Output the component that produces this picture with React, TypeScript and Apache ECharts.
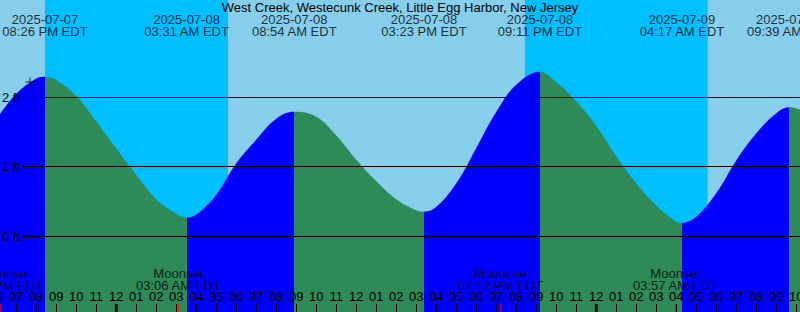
import React, { useEffect, useRef } from "react";
import * as echarts from "echarts";

// ---------- data ----------
const TITLE = "West Creek, Westecunk Creek, Little Egg Harbor, New Jersey";

const TIDE_DATES = ["2025-07-07", "2025-07-08", "2025-07-08", "2025-07-08", "2025-07-08", "2025-07-09", "2025-07-09"];
const TIDE_TIMES = ["08:26 PM", "03:31 AM", "08:54 AM", "03:23 PM", "09:11 PM", "04:17 AM", "09:39 AM"];
const TIDE_KINDS = ["High", "Low", "High", "Low", "High", "Low", "High"];

// water level samples (feet)
const CURVE_TIMES = [
  "2025-07-07 18:00", "2025-07-07 19:00", "2025-07-07 20:00", "2025-07-07 20:26", "2025-07-07 21:00",
  "2025-07-07 22:00", "2025-07-07 23:00", "2025-07-08 00:00", "2025-07-08 01:00", "2025-07-08 02:00",
  "2025-07-08 03:00", "2025-07-08 03:31", "2025-07-08 04:00", "2025-07-08 05:00", "2025-07-08 06:00",
  "2025-07-08 07:00", "2025-07-08 08:00", "2025-07-08 08:54", "2025-07-08 10:00", "2025-07-08 11:00",
  "2025-07-08 12:00", "2025-07-08 13:00", "2025-07-08 14:00", "2025-07-08 15:00", "2025-07-08 15:23",
  "2025-07-08 16:00", "2025-07-08 17:00", "2025-07-08 18:00", "2025-07-08 19:00", "2025-07-08 20:00",
  "2025-07-08 21:11", "2025-07-08 22:00", "2025-07-08 23:00", "2025-07-09 00:00", "2025-07-09 01:00",
  "2025-07-09 02:00", "2025-07-09 03:00", "2025-07-09 04:00", "2025-07-09 04:17", "2025-07-09 05:00",
  "2025-07-09 06:00", "2025-07-09 07:00", "2025-07-09 08:00", "2025-07-09 09:00", "2025-07-09 09:39",
  "2025-07-09 10:00", "2025-07-09 11:00",
];
const CURVE_FEET = [
  1.68, 2.05, 2.27, 2.297, 2.25,
  2.02, 1.65, 1.26, 0.88, 0.53,
  0.32, 0.27, 0.31, 0.6, 1.05,
  1.39, 1.69, 1.79, 1.72, 1.45,
  1.1, 0.79, 0.53, 0.37, 0.35,
  0.42, 0.76, 1.27, 1.79, 2.18,
  2.37, 2.22, 1.94, 1.59, 1.15,
  0.76, 0.44, 0.21, 0.19, 0.28,
  0.62, 1.09, 1.48, 1.77, 1.855,
  1.84, 1.74,
];

const NIGHT_STARTS = ["2025-07-07 20:26", "2025-07-08 20:26"];
const NIGHT_ENDS = ["2025-07-08 05:35", "2025-07-09 05:34"];

const MOON_EVENTS = ["Moonrise", "Moonset", "Moonrise", "Moonset"];
const MOON_DATES = ["2025-07-07", "2025-07-08", "2025-07-08", "2025-07-09"];
const MOON_TIMES = ["06:12 PM", "03:06 AM", "07:12 PM", "03:57 AM"];

const MARKER_TIME = "2025-07-07 19:41";
const MARKER_FEET = 2.22;

const Y_TICKS = [0, 1, 2];
const MIDNIGHTS = ["2025-07-08 00:00", "2025-07-09 00:00"];

// ---------- helpers ----------
const REF_DAY = 8; // hours are counted from 2025-07-08 00:00
function hoursOf(date: string, time: string): number {
  const day = parseInt(date.slice(8, 10), 10) - REF_DAY;
  const m = time.trim().match(/^(\d{1,2}):(\d{2})\s*(AM|PM)?$/i);
  if (!m) return 0;
  let h = parseInt(m[1], 10);
  const min = parseInt(m[2], 10);
  if (m[3]) {
    const pm = m[3].toUpperCase() === "PM";
    if (h === 12) h = 0;
    if (pm) h += 12;
  }
  return day * 24 + h + min / 60;
}
function hoursOfStamp(s: string): number {
  const [d, t] = s.split(" ");
  return hoursOf(d, t);
}

// ---------- layout ----------
const W = 800;
const H = 312;
const PX_PER_HOUR = 20;
const MIDNIGHT_X = 116.3;
const X_MIN = -6;
const X_MAX = 35;
const PX_PER_FT = 69.35;
const ZERO_Y = 236;
const Y_MIN = -(H - ZERO_Y) / PX_PER_FT;
const Y_MAX = ZERO_Y / PX_PER_FT;
const yAt = (px: number) => (ZERO_Y - px) / PX_PER_FT;
const xAtPx = (px: number) => (px - MIDNIGHT_X) / PX_PER_HOUR;

const FONT = "'Liberation Sans', Arial, Helvetica, sans-serif";
const DAY = "#87CEEB";
const NIGHT = "#00BFFF";
const RISING = "#0000FF";
const FALLING = "#2E8B57";

export default function App() {
  const ref = useRef<HTMLDivElement>(null);

  useEffect(() => {
    document.body.style.margin = "0";
    if (!ref.current) return;
    const chart = echarts.init(ref.current, undefined, { renderer: "svg", width: W, height: H });

    const curve = CURVE_TIMES.map((t, i) => [hoursOfStamp(t), CURVE_FEET[i]]);
    const tideHours = TIDE_TIMES.map((t, i) => hoursOf(TIDE_DATES[i], t));

    const pieces: any[] = [];
    pieces.push({ lt: tideHours[0], color: TIDE_KINDS[0] === "High" ? RISING : FALLING });
    for (let i = 0; i < tideHours.length; i++) {
      const color = TIDE_KINDS[i] === "High" ? FALLING : RISING;
      if (i < tideHours.length - 1) pieces.push({ gte: tideHours[i], lt: tideHours[i + 1], color });
      else pieces.push({ gte: tideHours[i], color });
    }

    const tideLabels = tideHours.map((h, i) => ({
      value: [h, yAt(25.3)],
      label: { formatter: `${TIDE_DATES[i]}\n${TIDE_TIMES[i]} EDT` },
    }));
    const moonLabels = MOON_TIMES.map((t, i) => ({
      value: [hoursOf(MOON_DATES[i], t), yAt(279.3)],
      label: { formatter: `${MOON_EVENTS[i]}\n${t} EDT` },
    }));
    const moonTicks = MOON_TIMES.map((t, i) => [hoursOf(MOON_DATES[i], t), yAt(308)]);
    const midnightTicks = MIDNIGHTS.map((s) => [hoursOfStamp(s), yAt(308)]);

    const lineStart = xAtPx(22);

    const option: any = {
      animation: false,
      backgroundColor: DAY,
      title: {
        text: TITLE,
        left: "center",
        top: 0,
        padding: 0,
        textStyle: { fontFamily: FONT, fontSize: 13, fontWeight: "normal", color: "#000", lineHeight: 14 },
      },
      grid: {
        left: MIDNIGHT_X + X_MIN * PX_PER_HOUR,
        top: 0,
        width: (X_MAX - X_MIN) * PX_PER_HOUR,
        height: H,
        containLabel: false,
        outerBoundsMode: "none",
      },
      xAxis: {
        type: "value",
        position: "bottom",
        min: X_MIN,
        max: X_MAX,
        interval: 1,
        z: 10,
        axisLine: { show: false, onZero: false },
        splitLine: { show: false },
        axisTick: { show: true, inside: true, length: 8, interval: 0, lineStyle: { color: "#000", width: 1 } },
        axisLabel: {
          inside: true,
          interval: 0,
          margin: 9,
          color: "#000",
          fontFamily: FONT,
          fontSize: 13,
          showMinLabel: true,
          showMaxLabel: true,
          hideOverlap: false,
          formatter: (v: number) => {
            const h = ((Math.round(v) % 24) + 24) % 24;
            const h12 = h % 12 === 0 ? 12 : h % 12;
            return String(h12).padStart(2, "0");
          },
        },
      },
      yAxis: { type: "value", min: Y_MIN, max: Y_MAX, show: false },
      visualMap: {
        type: "piecewise",
        show: false,
        dimension: 0,
        seriesIndex: 0,
        pieces,
      },
      series: [
        {
          type: "line",
          data: curve,
          smooth: 0.4,
          showSymbol: false,
          silent: true,
          z: 2,
          lineStyle: { width: 0, opacity: 0 },
          areaStyle: { opacity: 1, origin: "start" },
          markArea: {
            silent: true,
            z: 1,
            itemStyle: { color: NIGHT, opacity: 1 },
            data: NIGHT_STARTS.map((s, i) => [{ xAxis: hoursOfStamp(s) }, { xAxis: hoursOfStamp(NIGHT_ENDS[i]) }]),
          },
          markLine: {
            silent: true,
            symbol: "none",
            z: 5,
            lineStyle: { color: "#000", width: 1, type: "solid" },
            label: {
              show: true,
              position: "start",
              distance: 2,
              formatter: "{b}",
              color: "#000",
              fontFamily: FONT,
              fontSize: 13,
            },
            data: Y_TICKS.map((v) => [
              { name: `${v} ft`, coord: [lineStart, v] },
              { coord: [X_MAX, v] },
            ]),
          },
        },
        {
          type: "scatter",
          data: tideLabels,
          symbolSize: 0,
          silent: true,
          z: 6,
          label: { show: true, position: "inside", color: "#000", fontFamily: FONT, fontSize: 13, lineHeight: 12.5 },
        },
        {
          type: "scatter",
          data: moonLabels,
          symbolSize: 0,
          silent: true,
          z: 6,
          label: { show: true, position: "inside", color: "#000", fontFamily: FONT, fontSize: 13, lineHeight: 11.5 },
        },
        {
          type: "scatter",
          data: midnightTicks,
          symbol: "rect",
          symbolSize: [3, 8],
          silent: true,
          z: 11,
          itemStyle: { color: "#000" },
        },
        {
          type: "scatter",
          data: moonTicks,
          symbol: "rect",
          symbolSize: [1, 8],
          silent: true,
          z: 12,
          itemStyle: { color: "#FF0000" },
        },
        {
          type: "scatter",
          data: [[hoursOfStamp(MARKER_TIME), MARKER_FEET]],
          symbol: "path://M4,0H5V4H9V5H5V9H4V5H0V4H4Z",
          symbolSize: [9, 9],
          silent: true,
          z: 7,
          itemStyle: { color: "#000" },
        },
      ],
    };

    chart.setOption(option);
    return () => chart.dispose();
  }, []);

  return (
    <div
      ref={ref}
      style={{ position: "fixed", left: 0, top: 0, width: W, height: H, overflow: "hidden" }}
    />
  );
}
